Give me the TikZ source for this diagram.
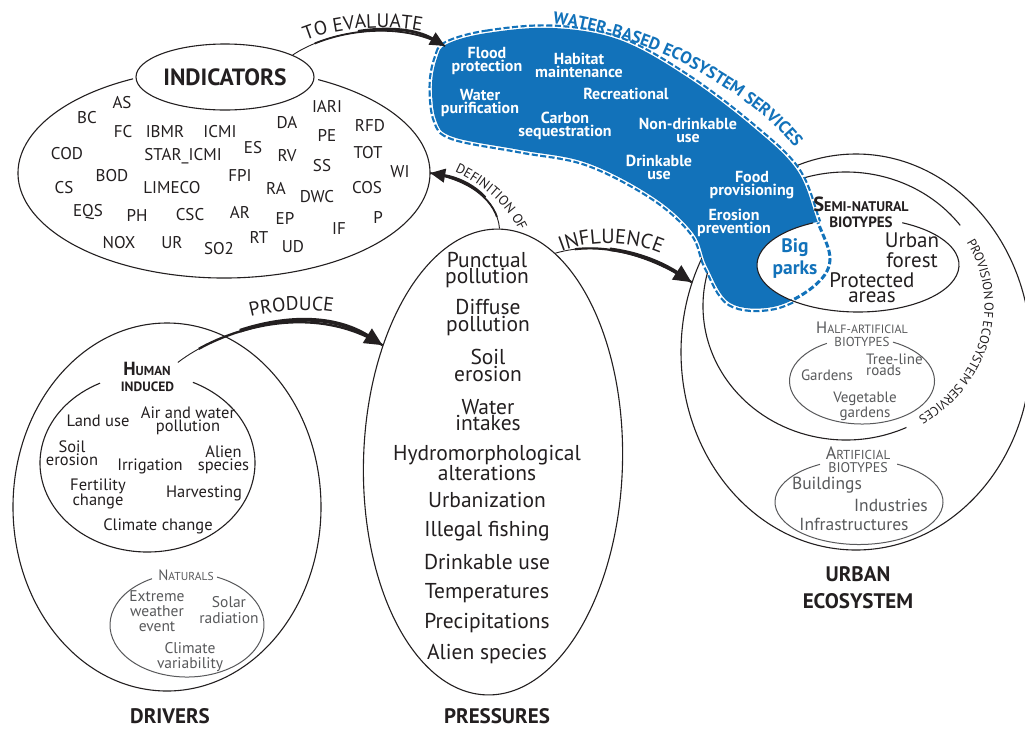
\documentclass[tikz,border=0pt]{standalone}
\usepackage{fontspec}
\setmainfont{PT Sans}
\usetikzlibrary{shapes.geometric,arrows.meta,decorations.text,calc}
\definecolor{wblue}{RGB}{18,114,186}
\definecolor{ink}{RGB}{35,31,32}
\definecolor{gtx}{RGB}{88,89,91}
\newcommand\myfs[2]{\fontsize{#1}{#2}\selectfont}
\begin{document}
\begin{tikzpicture}[x=1pt,y=1pt,
  eshape/.style={ellipse, inner sep=0pt},
  bline/.style={draw=ink, line width=1.1pt},
  gline/.style={draw=gtx, line width=1pt},
  il/.style={text=ink, font=\myfs{17}{17}, inner sep=0pt},
  hl/.style={text=ink, font=\myfs{16.5}{13.5}, align=center, inner sep=0pt},
  nl/.style={text=gtx, font=\myfs{15.5}{15}, align=center, inner sep=0pt},
  pl/.style={text=ink, font=\myfs{21.5}{16.5}, align=center, inner sep=0pt},
  wl/.style={text=white, font=\myfs{16}{13}\bfseries, align=center, inner sep=0pt},
  ul/.style={text=ink, font=\myfs{21}{20}, align=center, inner sep=0pt},
  hal/.style={text=gtx, font=\myfs{15}{11.5}, align=center, inner sep=0pt},
  al/.style={text=gtx, font=\myfs{17.5}{17}, inner sep=0pt},
  ttl/.style={text=ink, font=\myfs{21}{26.5}\bfseries, align=center, inner sep=0pt},
  tarr/.style n args={5}{draw=ink, line width=#4, dash pattern=on 0pt off #2 on 3000pt,
     -{Triangle[length=#5,width=0.9*#5]},
     preaction={draw=ink, -, solid, line width=0.9pt},
     preaction={draw=ink, -, line width=#3, dash pattern=on 0pt off #1 on 3000pt}}]
\useasboundingbox (0,0) rectangle (1025,-729);
\fill[white] (0,0) rectangle (1025,-729);

% ---------------- INDICATORS ----------------
\node[eshape, minimum width=412pt, minimum height=210pt] (indBig) at (224,-173) {};
\draw[bline] ($(indBig.center)+(116.2:206 and 105)$) arc[start angle=116.2, end angle=422.8, x radius=206, y radius=105];
\node[eshape, bline, fill=white, minimum width=178pt, minimum height=66pt, text=ink, font=\myfs{23.5}{23}\bfseries] (ind) at (225,-77) {INDICATORS};
\foreach \t/\x/\y [count=\k] in {AS/122/103, BC/87/118, FC/123/132, IBMR/165/132, ICMI/220/132,
  IARI/327/106, DA/287/123, PE/327/135, RFD/370/126, COD/67/154, STAR\_ICMI/183/156, ES/253/148,
  RV/287/156, SS/322/166, TOT/368/153, WI/400/172, CS/64/188, BOD/112/176, LIMECO/172/188,
  FPI/240/175, RA/276/188, DWC/317/197, COS/367/188, EQS/88/212, PH/137/215, CSC/190/215,
  AR/240/212, EP/285/218, P/378/217, IF/339/229, RT/259/237, NOX/119/243, UR/172/243,
  SO2/219/249, UD/293/247}
  \node[il] (ix\k) at (\x,-\y) {\t};

% ---------------- DRIVERS ----------------
\node[eshape, bline, minimum width=308pt, minimum height=368pt] (drv) at (167,-507) {};
\node[eshape, minimum width=215pt, minimum height=178pt] (hum) at (147.5,-463) {};
\draw[bline] ($(hum.center)+(116.2:107.5 and 89)$) arc[start angle=116.2, end angle=425, x radius=107.5, y radius=89];
\node[anchor=base, text=ink, font=\bfseries, inner sep=0pt] (humT) at (147,-375) {{\myfs{19}{19}H}{\myfs{13}{13}UMAN}};
\node[anchor=base, text=ink, font=\myfs{13.5}{13.5}\bfseries, inner sep=0pt] (humT2) at (147.5,-391.7) {INDUCED};
\node[hl] (hLand) at (98,-421) {Land use};
\node[hl] (hAir) at (188,-421) {Air and water\\pollution};
\node[hl, font=\myfs{16.5}{12.7}] (hSoil) at (72,-453.5) {Soil\\erosion};
\node[hl] (hIrr) at (150,-466) {Irrigation};
\node[hl, font=\myfs{16.5}{12.7}] (hAlien) at (223.5,-460) {Alien\\species};
\node[hl, font=\myfs{16.5}{15}] (hFert) at (98,-494) {Fertility\\change};
\node[hl] (hHarv) at (204,-493) {Harvesting};
\node[hl] (hClim) at (158,-526) {Climate change};

\node[eshape, minimum width=154pt, minimum height=104pt] (nat) at (187,-625) {};
\draw[gline] ($(nat.center)+(117:77 and 52)$) arc[start angle=117, end angle=427, x radius=77, y radius=52];
\node[anchor=base, text=gtx, inner sep=0pt] (natT) at (186,-580.7) {{\myfs{15}{15}N}{\myfs{11.5}{11.5}ATURALS}};
\node[nl] (nExt) at (157,-611) {Extreme\\weather\\event};
\node[nl, font=\myfs{15.5}{16}] (nSol) at (229,-610) {Solar\\radiation};
\node[nl] (nClim) at (190,-657) {Climate\\variability};
\node[ttl] (tDrv) at (170,-716) {DRIVERS};

% ---------------- PRESSURES ----------------
\node[eshape, bline, minimum width=259pt, minimum height=466pt, rotate=-1.6] (press) at (493,-462) {};
\node[pl] (p1) at (487,-270) {Punctual\\pollution};
\node[pl] (p2) at (488,-317.5) {Diffuse\\pollution};
\node[pl] (p3) at (488,-365.5) {Soil\\erosion};
\node[pl] (p4) at (488,-415) {Water\\intakes};
\node[pl] (p5) at (487,-463) {Hydromorphological\\alterations};
\node[pl] (p6) at (487,-500) {Urbanization};
\node[pl] (p7) at (487,-531) {Illegal fishing};
\node[pl] (p8) at (487,-562) {Drinkable use};
\node[pl] (p9) at (487,-593) {Temperatures};
\node[pl] (p10) at (487,-623) {Precipitations};
\node[pl] (p11) at (487,-654) {Alien species};
\node[ttl] (tPress) at (497,-716) {PRESSURES};

% ---------------- URBAN ECOSYSTEM ----------------
\node[eshape, bline, minimum width=350pt, minimum height=396pt] (urbOut) at (856,-352) {};
\node[eshape, minimum width=286pt, minimum height=268pt] (urbMid) at (846,-306) {};
\draw[bline] ($(urbMid.center)+(37:143 and 134)$) arc[start angle=37, end angle=295, x radius=143, y radius=134];
\path[decorate, decoration={text along path, text align=center, raise=-4.5pt,
   text={|\myfs{12.8}{12.8}\color{ink}|PROVISION OF ECOSYSTEM SERVICES}}]
   ($(urbMid.center)+(36:143 and 134)$) arc[start angle=36, end angle=-65, x radius=143, y radius=134];

\node[eshape, minimum width=145pt, minimum height=86pt] (half) at (862,-381) {};
\draw[gline] ($(half.center)+(119:72.5 and 43)$) arc[start angle=119, end angle=424.7, x radius=72.5, y radius=43];
\node[anchor=base, text=gtx, inner sep=0pt] (halfT) at (862,-333) {{\myfs{16.5}{16}H}{\myfs{12}{12}ALF-ARTIFICIAL}};
\node[anchor=base, text=gtx, font=\myfs{13}{13}, inner sep=0pt] (halfT2) at (862,-346) {BIOTYPES};
\node[hal] (hGard) at (827,-375) {Gardens};
\node[hal, align=left, anchor=west] (hTree) at (866,-365) {Tree-line\\roads};
\node[hal] (hVeg) at (865,-406) {Vegetable\\gardens};

\node[eshape, minimum width=168pt, minimum height=85pt] (art) at (859,-502) {};
\draw[gline] ($(art.center)+(117.7:84 and 42.5)$) arc[start angle=117.7, end angle=423, x radius=84, y radius=42.5];
\node[anchor=base, text=gtx, inner sep=0pt] (artT) at (858,-459) {{\myfs{18}{18}A}{\myfs{13}{13}RTIFICIAL}};
\node[anchor=base, text=gtx, font=\myfs{14}{14}, inner sep=0pt] (artT2) at (858,-472) {BIOTYPES};
\node[al] (aBuild) at (827,-485) {Buildings};
\node[al] (aInd) at (891,-505) {Industries};
\node[al] (aInf) at (854,-524) {Infrastructures};
\node[ttl] (tUrb) at (858,-587.5) {URBAN\\ECOSYSTEM};

% ---------------- WATER-BASED ECOSYSTEM SERVICES ----------------
\def\blobpath{plot[smooth cycle, tension=0.6] coordinates {(447,-44) (487,-33) (553,-28) (620,-40) (687,-77) (753,-127) (797,-170) (817,-220) (830,-260) (813,-287) (773,-307) (730,-303) (707,-267) (693,-233) (653,-197) (587,-163) (520,-150) (453,-137) (436,-120) (432,-85) (437,-58)}}
\draw[wblue, line width=7pt, dash pattern=on 6pt off 2.5pt] \blobpath;
\draw[white, line width=2.6pt] \blobpath;
\fill[wblue] \blobpath;
\coordinate (blobIn) at (445,-46);
\node[wl] (wFlood) at (487,-61) {Flood\\protection};
\node[wl] (wHab) at (579,-65) {Habitat\\maintenance};
\node[wl] (wWat) at (480,-103) {Water\\purification};
\node[wl] (wRec) at (626,-94) {Recreational};
\node[wl] (wCar) at (565,-125.5) {Carbon\\sequestration};
\node[wl] (wNon) at (688,-130) {Non-drinkable\\use};
\node[wl] (wDri) at (659,-167.5) {Drinkable\\use};
\node[wl] (wFood) at (752,-185.5) {Food\\provisioning};
\node[wl] (wEro) at (734,-222.5) {Erosion\\prevention};
\path[decorate, decoration={text along path, text align=center,
   text={|\myfs{17}{17}\bfseries\color{wblue}|WATER-BASED ECOSYSTEM SERVICES}}]
   (538,-22) .. controls (588,-27) and (645,-42) .. (692,-68) .. controls (737,-93) and (782,-125) .. (803,-160);

% ---------------- SEMI-NATURAL ----------------
\node[eshape, minimum width=202pt, minimum height=94pt] (semi) at (858,-265) {};
\fill[white] (semi.center) ellipse [x radius=101, y radius=47];
\begin{scope}
  \clip (semi.center) ellipse [x radius=100.4, y radius=46.4];
  \draw[wblue, line width=3pt, dash pattern=on 6pt off 2.5pt] \blobpath;
\end{scope}
\draw[bline] ($(semi.center)+(116.5:101 and 47)$) arc[start angle=116.5, end angle=424, x radius=101, y radius=47];
\node[anchor=base, text=ink, font=\bfseries, inner sep=0pt] (semiT) at (861,-211) {{\myfs{20.5}{20}S}{\myfs{14}{14}EMI-NATURAL}};
\node[anchor=base, text=ink, font=\myfs{15}{15}\bfseries, inner sep=0pt] (semiT2) at (861,-227) {BIOTYPES};
\node[ul] (uForest) at (912,-250) {Urban\\forest};
\node[ul, font=\myfs{21}{15}] (uProt) at (872,-288) {Protected\\areas};
\node[text=wblue, font=\myfs{19.5}{22}\bfseries, align=center, inner sep=0pt] (uBig) at (795,-259) {Big\\parks};

% ---------------- CONNECTORS ----------------
\draw[tarr={25pt}{70pt}{1.8pt}{2.8pt}{15pt}] (ind.18) .. controls (330,-30) and (400,-20) .. (blobIn);
\path[decorate, decoration={text along path, text align=center,
   text={|\myfs{19.5}{19.5}\color{ink}|TO EVALUATE}}]
   (298,-44) .. controls (330,-27) and (392,-23) .. (430,-33);

\draw[tarr={25pt}{70pt}{2.3pt}{3.8pt}{18pt}] ([shift={(7,6)}]humT.east) .. controls (220,-330) and (310,-300) .. (press.135);
\path[decorate, decoration={text along path, text align=center,
   text={|\myfs{19.5}{19.5}\color{ink}|PRODUCE}}]
   (242,-319) .. controls (270,-310) and (310,-307) .. (342,-314);

\draw[tarr={20pt}{55pt}{2.2pt}{3.6pt}{18pt}] (press.75) .. controls (600,-240) and (650,-255) .. (urbOut.157);
\path[decorate, decoration={text along path, text align=center,
   text={|\myfs{20.5}{20.5}\color{ink}|INFLUENCE}}]
   (554,-255) .. controls (585,-239) and (635,-239) .. (668,-257);

\draw[tarr={12pt}{35pt}{1.8pt}{2.8pt}{15pt}] (press.north) .. controls (497,-200) and (470,-180) .. (indBig.east);
\path[decorate, decoration={text along path, text align=center,
   text={|\myfs{13.5}{13.5}\color{ink}|DEFINITION OF}}]
   (448,-169) .. controls (478,-180) and (512,-208) .. (522,-238);
\end{tikzpicture}
\end{document}
